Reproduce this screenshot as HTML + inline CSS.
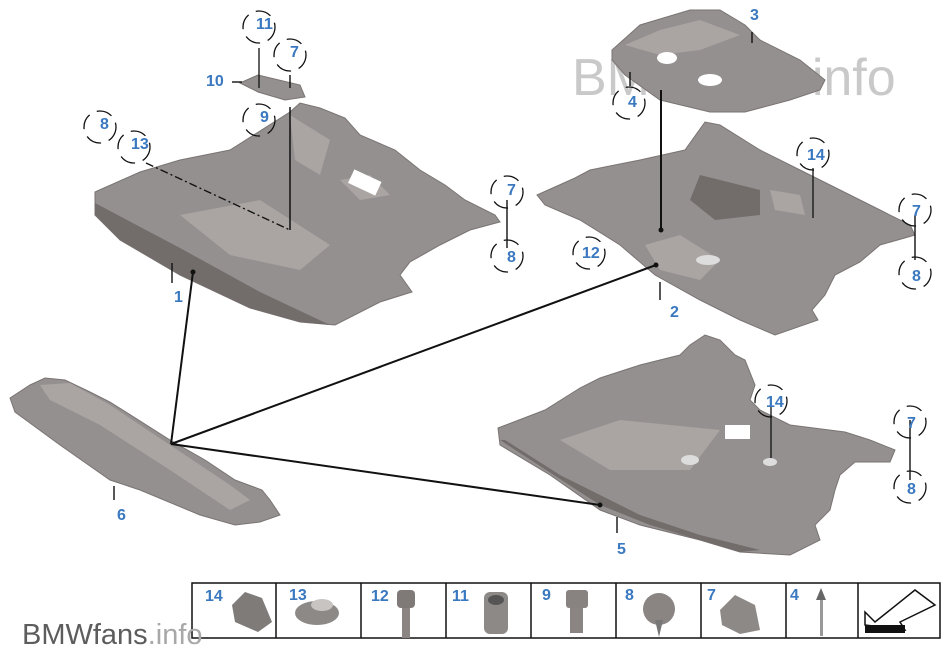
<!DOCTYPE html>
<html><head><meta charset="utf-8"><style>
html,body{margin:0;padding:0;background:#fff;}
svg{display:block}
.l{font-family:"Liberation Sans",sans-serif;font-weight:bold;font-size:16px;fill:#3a78c0}
.c{fill:none;stroke:#111;stroke-width:1.3;stroke-dasharray:16 8}
.p{fill:#949090;stroke:#7a7472;stroke-width:1}
.q{fill:#aaa5a3}
.d{fill:#726d6b}
</style></head><body>
<svg width="950" height="665" viewBox="0 0 950 665" xmlns="http://www.w3.org/2000/svg">
<text x="572" y="95" font-family="Liberation Sans,sans-serif" font-size="52" fill="#c9c9c9">BMWfans.info</text>

<polygon class="p" points="612,50 640,25 690,10 720,10 745,25 760,40 800,60 825,80 820,90 790,100 745,112 710,112 660,100 625,75 612,60"/>
<polygon class="q" points="625,45 660,30 700,20 740,35 700,50 660,55"/>
<ellipse cx="667" cy="58" rx="10" ry="6" fill="#fff"/>
<ellipse cx="710" cy="80" rx="12" ry="6" fill="#fff"/>

<polygon class="p" points="95,192 140,172 180,160 230,150 290,112 300,103 320,108 345,118 360,135 395,150 420,170 445,185 465,200 495,215 500,222 470,230 440,245 410,262 400,275 412,292 380,302 335,325 300,322 250,308 180,275 120,240 95,215"/>
<polygon class="d" points="95,203 180,248 260,292 330,325 300,322 250,308 180,275 120,240 95,215"/>
<polygon class="q" points="180,215 260,200 330,245 300,270 230,255"/>
<polygon class="q" points="340,180 370,175 390,195 360,200"/>
<rect x="350" y="175" width="30" height="15" fill="#fff" transform="rotate(25 365 182)"/>
<polygon class="q" points="290,115 330,140 320,175 295,160"/>

<polygon class="p" points="240,83 258,75 300,85 305,97 285,100 258,92"/>

<polygon class="p" points="537,195 575,178 590,170 640,160 685,150 705,122 720,125 760,150 800,170 840,190 880,210 910,225 915,235 880,245 860,262 835,275 825,295 812,310 818,320 775,335 740,320 700,300 655,275 620,245 580,220 545,205"/>
<polygon class="q" points="645,245 680,235 720,260 700,280 660,270"/>
<polygon class="d" points="700,175 760,190 760,215 715,220 690,200"/>
<polygon class="q" points="770,190 800,195 805,215 775,210"/>
<ellipse cx="708" cy="260" rx="12" ry="5" fill="#ddd"/>

<polygon class="p" points="498,428 545,410 580,388 600,378 640,365 680,355 690,345 705,335 720,340 735,355 745,360 755,385 750,400 760,410 790,425 845,432 870,440 895,450 890,462 855,462 840,475 835,490 830,510 815,525 820,540 790,555 740,552 700,540 640,525 600,510 550,475 500,445"/>
<polygon class="d" points="500,440 600,505 650,525 700,540 740,552 760,550 700,535 640,515 560,475 505,440"/>
<polygon class="q" points="560,440 620,420 720,430 690,470 610,470"/>
<rect x="725" y="425" width="25" height="14" fill="#fff"/>
<ellipse cx="690" cy="460" rx="9" ry="5" fill="#ddd"/>
<ellipse cx="770" cy="462" rx="7" ry="4" fill="#ddd"/>

<polygon class="p" points="10,398 30,385 45,378 65,380 90,392 110,402 170,440 205,460 235,480 262,490 270,500 280,515 260,522 235,525 200,515 140,490 110,480 60,445 15,412"/>
<polygon class="q" points="40,385 70,383 110,405 170,445 230,485 250,500 230,510 170,470 100,425 50,400"/>

<g stroke="#111" stroke-width="2" fill="none">
<line x1="193" y1="272" x2="171" y2="444"/>
<line x1="171" y1="444" x2="656" y2="265"/>
<line x1="171" y1="444" x2="600" y2="505"/>
<line x1="661" y1="90" x2="661" y2="230"/>
<line x1="290" y1="107" x2="290" y2="230" stroke-width="1.5"/>
<line x1="146" y1="163" x2="290" y2="230" stroke-width="1.3" stroke-dasharray="8 3 2 3"/>
<line x1="259" y1="48" x2="259" y2="88" stroke-width="1.3"/>
<line x1="813" y1="168" x2="813" y2="218" stroke-width="1.3"/>
<line x1="771" y1="397" x2="771" y2="458" stroke-width="1.3"/>
</g>
<g stroke="#111" stroke-width="1.4">
<line x1="172" y1="263" x2="172" y2="283"/>
<line x1="660" y1="282" x2="660" y2="300"/>
<line x1="752" y1="32" x2="752" y2="43"/>
<line x1="630" y1="72" x2="630" y2="86"/>
<line x1="617" y1="517" x2="617" y2="533"/>
<line x1="114" y1="486" x2="114" y2="500"/>
<line x1="232" y1="82" x2="242" y2="82"/>
<line x1="290" y1="75" x2="290" y2="88"/>
<line x1="507" y1="200" x2="507" y2="248"/>
<line x1="915" y1="215" x2="915" y2="260"/>
<line x1="910" y1="420" x2="910" y2="480"/>
</g>
<g fill="#111"><circle cx="193" cy="272" r="2.5"/><circle cx="656" cy="265" r="2.5"/><circle cx="600" cy="505" r="2.5"/><circle cx="661" cy="230" r="2.5"/></g>

<g class="c">
<circle cx="259" cy="27" r="16"/><circle cx="290" cy="55" r="16"/><circle cx="259" cy="120" r="16"/>
<circle cx="100" cy="127" r="16"/><circle cx="134" cy="147" r="16"/>
<circle cx="507" cy="192" r="16"/><circle cx="507" cy="256" r="16"/>
<circle cx="629" cy="103" r="16"/><circle cx="589" cy="253" r="16"/>
<circle cx="813" cy="154" r="16"/><circle cx="915" cy="210" r="16"/><circle cx="915" cy="273" r="16"/>
<circle cx="771" cy="401" r="16"/><circle cx="910" cy="422" r="16"/><circle cx="910" cy="487" r="16"/>
</g>

<g class="l">
<text x="256" y="29">11</text><text x="290" y="57">7</text><text x="206" y="86">10</text><text x="260" y="122">9</text>
<text x="100" y="129">8</text><text x="131" y="149">13</text>
<text x="174" y="302">1</text><text x="507" y="195">7</text><text x="507" y="262">8</text>
<text x="750" y="20">3</text><text x="628" y="107">4</text><text x="582" y="258">12</text>
<text x="807" y="160">14</text><text x="670" y="317">2</text><text x="912" y="216">7</text><text x="912" y="281">8</text>
<text x="766" y="407">14</text><text x="907" y="428">7</text><text x="907" y="494">8</text>
<text x="617" y="554">5</text><text x="117" y="520">6</text>
</g>

<g stroke="#111" stroke-width="1.5" fill="none">
<rect x="192" y="583" width="748" height="55"/>
<line x1="276" y1="583" x2="276" y2="638"/><line x1="361" y1="583" x2="361" y2="638"/>
<line x1="446" y1="583" x2="446" y2="638"/><line x1="531" y1="583" x2="531" y2="638"/>
<line x1="616" y1="583" x2="616" y2="638"/><line x1="701" y1="583" x2="701" y2="638"/>
<line x1="786" y1="583" x2="786" y2="638"/><line x1="858" y1="583" x2="858" y2="638"/>
</g>
<g class="l">
<text x="205" y="601">14</text><text x="289" y="600">13</text><text x="371" y="601">12</text><text x="452" y="601">11</text>
<text x="542" y="600">9</text><text x="625" y="600">8</text><text x="707" y="600">7</text><text x="790" y="600">4</text>
</g>
<polygon points="232,605 245,592 262,598 272,622 258,632 235,622" fill="#7f7b79"/>
<ellipse cx="317" cy="613" rx="22" ry="12" fill="#8d8987"/><ellipse cx="322" cy="605" rx="11" ry="6" fill="#c8c4c2"/>
<rect x="402" y="605" width="8" height="33" fill="#8a8583"/><rect x="397" y="590" width="18" height="18" rx="4" fill="#7f7a78"/>
<rect x="484" y="592" width="24" height="42" rx="6" fill="#8d8987"/><ellipse cx="496" cy="600" rx="8" ry="5" fill="#555"/>
<rect x="570" y="605" width="13" height="28" fill="#8a8583"/><rect x="566" y="590" width="22" height="18" rx="3" fill="#888381"/>
<circle cx="659" cy="609" r="16" fill="#8a8583"/><polygon points="655,620 663,620 659,637" fill="#777"/>
<polygon points="720,610 735,595 755,605 760,630 740,634 722,625" fill="#8d8987"/>
<rect x="820" y="598" width="3" height="38" fill="#999"/><polygon points="816,600 826,600 821,588" fill="#666"/>
<polygon points="865,625 865,612 875,622 915,590 935,605 900,622 905,630" fill="#fff" stroke="#111" stroke-width="1.5"/>
<polygon points="865,625 905,625 905,633 865,633" fill="#111"/>

<text x="22" y="644" font-family="Liberation Sans,sans-serif" font-size="29" fill="#5d5d5d">BMWfans<tspan fill="#a8a8a8">.info</tspan></text>
</svg>
</body></html>
